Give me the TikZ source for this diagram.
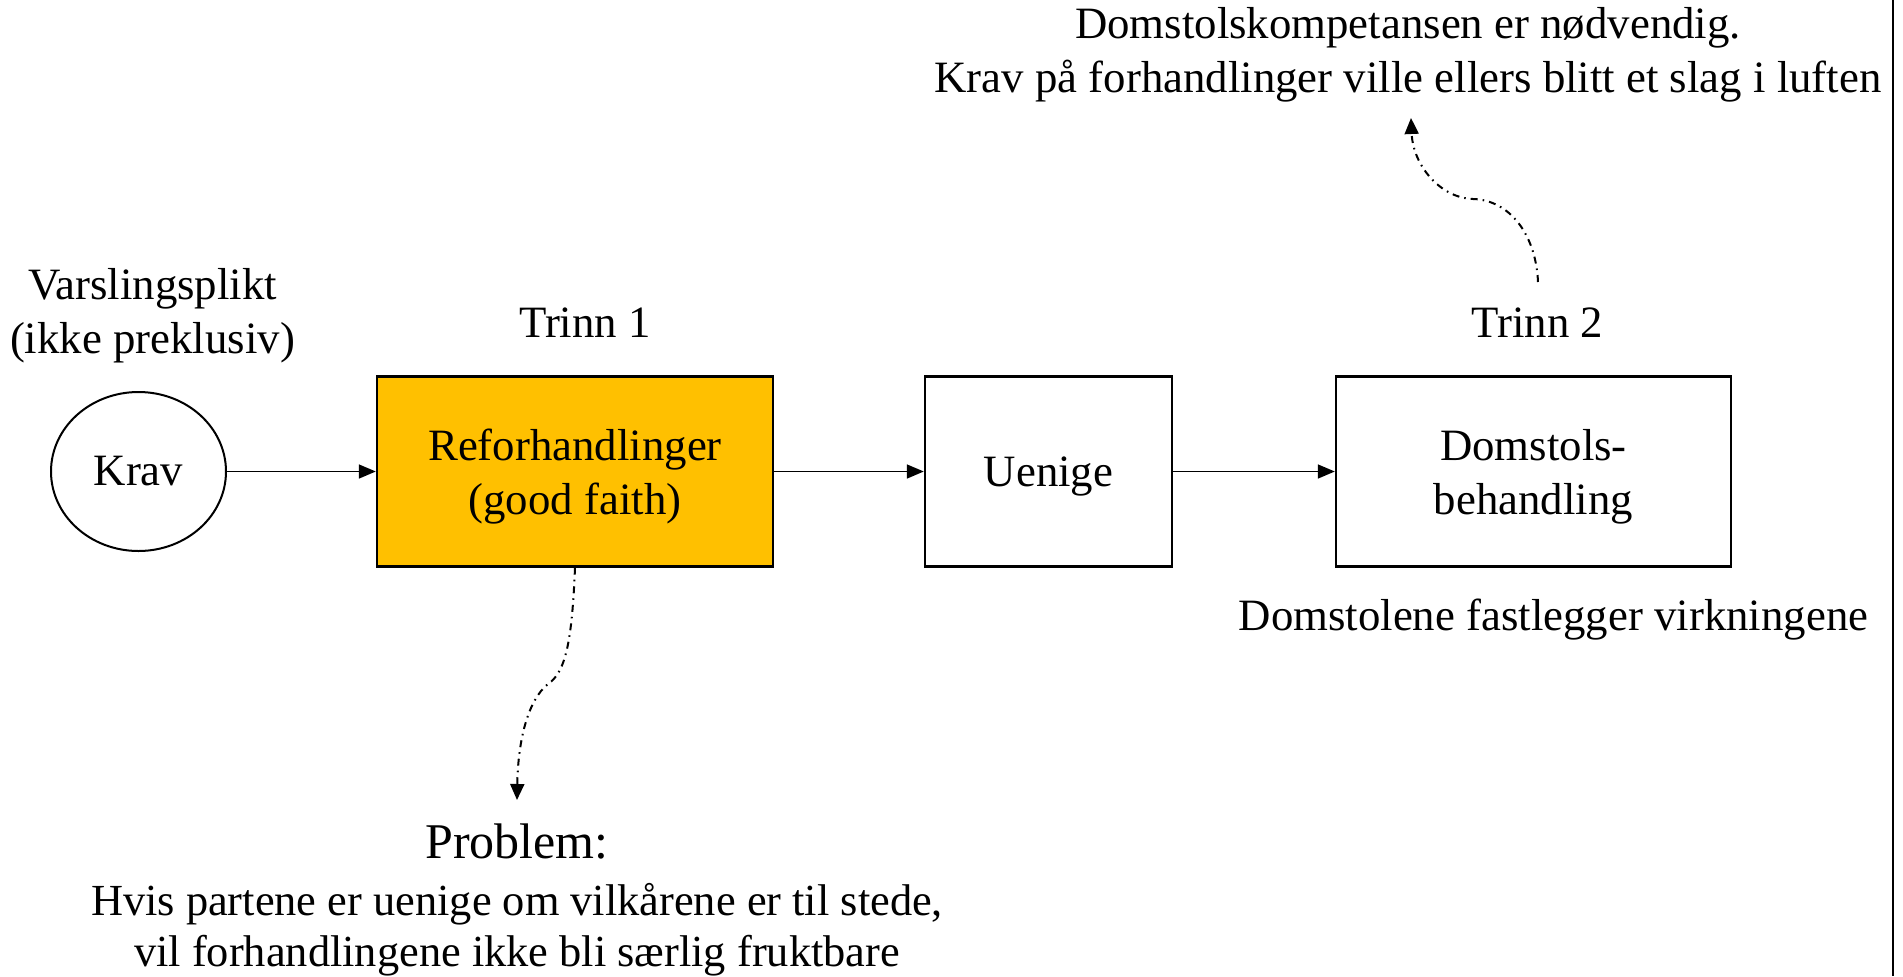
\documentclass[tikz,border=0pt]{standalone}
\usepackage{fontspec}
\setmainfont{Liberation Serif}
\usetikzlibrary{positioning, shapes.geometric, arrows.meta}
\definecolor{faithgold}{HTML}{FFC000}

\begin{document}
\begin{tikzpicture}
	[x=0.5pt, y=-0.5pt, on grid, node distance=2cm,
	 font=\fontsize{22.4}{27}\selectfont,
	 stage/.style={draw, line width=1.2pt, minimum height=95pt, align=center, inner sep=0pt, text depth=0pt},
	 flow/.style={-{Triangle[length=8.5pt,width=7pt]}, line width=0.8pt},
	 hint/.style={-{Triangle[length=8pt,width=7pt]}, line width=1pt, dash pattern=on 3.5pt off 2.5pt on 0.8pt off 2.5pt}]
   \useasboundingbox (0,0) rectangle (1903,976);
   \node[ellipse, draw, line width=1pt, minimum width=87.5pt, minimum height=79.5pt, inner sep=0pt] (krav) at (138.5,471.5) {Krav};
   \node[stage, fill=faithgold, minimum width=198pt] (refor) [right=218.25pt of krav] {Reforhandlinger\\(good faith)};
   \node[stage, minimum width=123.5pt] (uenige) [right=236.75pt of refor] {Uenige};
   \node[stage, minimum width=197.5pt] (domstol) [right=242.5pt of uenige] {Domstols-\\behandling};
   \node[align=center] (varsling) [above=77.75pt of krav, xshift=7pt] {Varslingsplikt\\(ikke preklusiv)};
   \node (trinn1) [above=74.5pt of refor, xshift=5pt] {Trinn 1};
   \node (trinn2) [above=74.5pt of domstol, xshift=2pt] {Trinn 2};
   \node (virkning) [below=74pt of domstol, xshift=10pt] {Domstolene fastlegger virkningene};
   \node[align=center] (kompetanse) at (1408,55) {Domstolskompetansen er nødvendig.\\Krav på forhandlinger ville ellers blitt et slag i luften};
   \node[font=\fontsize{25}{30}\selectfont] (problem) at (517,841) {Problem:};
   \node[align=center, font=\fontsize{22.2}{25.5}\selectfont] (uenighet) at (517,930) {Hvis partene er uenige om vilkårene er til stede,\\vil forhandlingene ikke bli særlig fruktbare};
   \coordinate (probtip) at (517,800);
   \coordinate (t2start) at (1538,282);
   \coordinate (toptip) at (1411,118);
       \path[flow]
    (krav) edge (refor)
    (refor) edge (uenige)
    (uenige) edge (domstol);
   \draw[hint] (refor.south) .. controls (572,640) and (566,672) .. (548,684) .. controls (528,700) and (518,740) .. (probtip);
   \draw[hint] (t2start) .. controls (1536,235) and (1510,200) .. (1473,199) .. controls (1440,198) and (1413,165) .. (toptip);
   \draw[line width=1pt] (1893,0) -- (1893,976);
\end{tikzpicture}
\end{document}
